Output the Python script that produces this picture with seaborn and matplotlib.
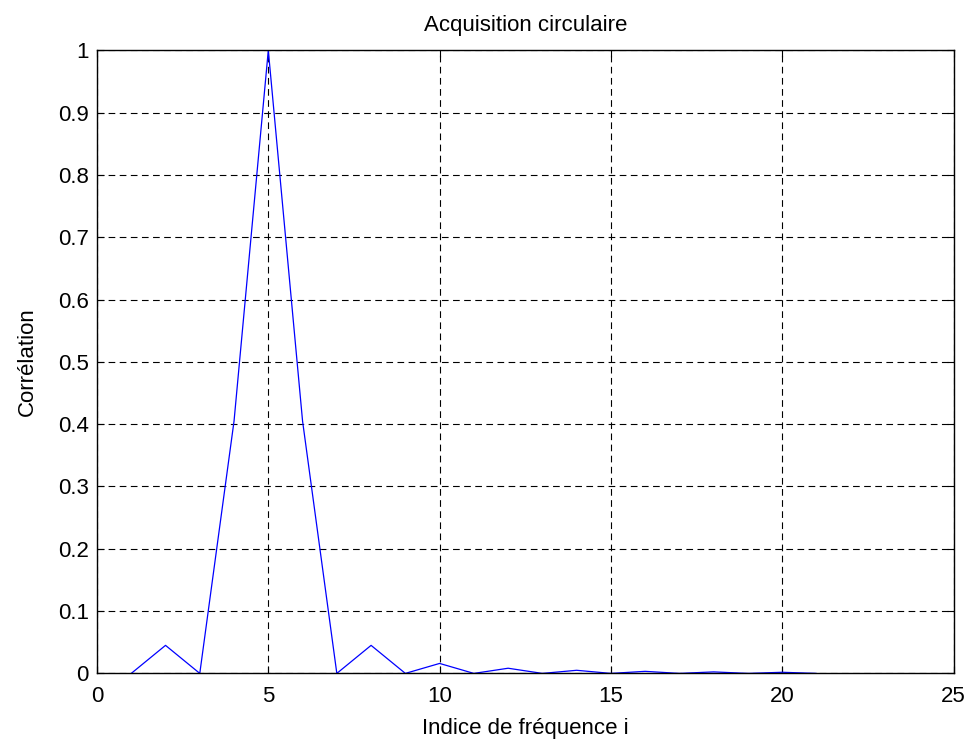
import numpy as np
import pandas as pd
import seaborn as sns
import matplotlib
matplotlib.use("Agg")
import matplotlib.pyplot as plt

# frequency index and correlation values
indices = list(range(1, 22))
correlation = [0.0, 0.045, 0.0, 0.405, 1.0, 0.405, 0.0, 0.045, 0.0, 0.016,
               0.0, 0.0083, 0.0, 0.005, 0.0, 0.0033, 0.0, 0.0024, 0.0, 0.0018, 0.0]

xticks = [0, 5, 10, 15, 20, 25]
yticks = [0, 0.1, 0.2, 0.3, 0.4, 0.5, 0.6, 0.7, 0.8, 0.9, 1]
ytick_labels = ["0", "0.1", "0.2", "0.3", "0.4", "0.5", "0.6", "0.7", "0.8", "0.9", "1"]

df = pd.DataFrame({"i": indices, "corr": correlation})

sns.set_style("white")
plt.rcParams["font.family"] = ["Liberation Sans", "DejaVu Sans"]
plt.rcParams["text.color"] = "black"
plt.rcParams["axes.labelcolor"] = "black"

fig, ax = plt.subplots(figsize=(9.7, 7.4), dpi=100)
fig.subplots_adjust(left=0.1, right=0.983, bottom=0.09, top=0.932)

sns.lineplot(data=df, x="i", y="corr", color="blue", linewidth=0.9, ax=ax)

ax.set_xlim(0, 25)
ax.set_ylim(0, 1)
ax.set_xticks(xticks)
ax.set_yticks(yticks)
ax.set_yticklabels(ytick_labels)
ax.grid(True, color="black", linestyle=(0, (6, 4)), linewidth=0.8)
ax.tick_params(labelsize=16, direction="in", length=5, top=True, right=True,
               bottom=True, left=True, colors="black")
ax.tick_params(axis="x", pad=9)
ax.tick_params(axis="y", pad=6)
for s in ax.spines.values():
    s.set_color("black")
    s.set_linewidth(1.0)

ax.set_title("Acquisition circulaire", fontsize=16, pad=14)
ax.set_xlabel("Indice de fréquence i", fontsize=16, labelpad=8)
ax.set_ylabel("Corrélation", fontsize=16, labelpad=14)

fig.savefig("out.png", dpi=100, facecolor="white")
